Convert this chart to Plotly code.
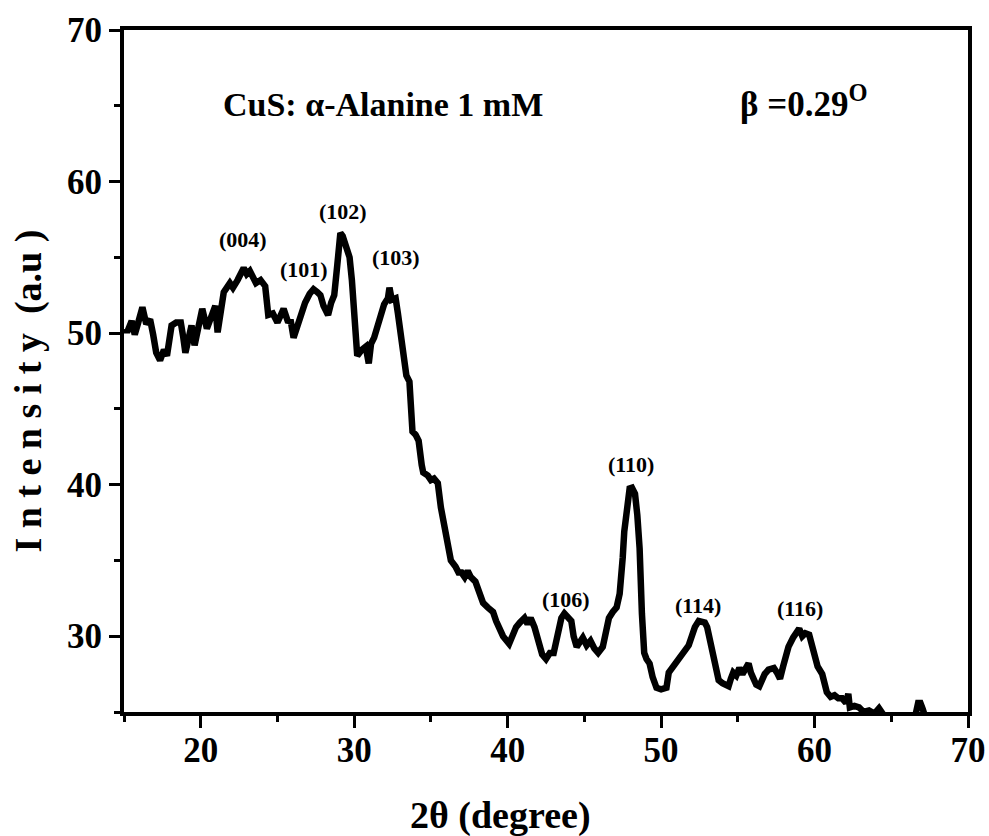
import plotly.graph_objects as go

two_theta = [15.1, 15.2, 15.5, 15.7, 15.9, 16.2, 16.45, 16.7, 16.9, 17.1, 17.35, 17.6, 17.8, 18.1, 18.4, 18.7, 18.85, 19.0, 19.2, 19.4,
             19.6, 19.85, 20.1, 20.4, 20.7, 20.95, 21.1, 21.3, 21.5, 21.9, 22.1, 22.4, 22.6, 22.8, 23.0, 23.2, 23.4, 23.6, 23.9, 24.2,
             24.4, 24.7, 25.0, 25.2, 25.4, 25.7, 25.85, 26.05, 26.4, 26.6, 26.8, 27.1, 27.35, 27.6, 27.8, 28.0, 28.3, 28.5, 28.7, 28.9,
             29.1, 29.25, 29.45, 29.7, 29.85, 30.0, 30.2, 30.5, 30.75, 30.95, 31.1, 31.3, 31.5, 31.7, 31.95, 32.2, 32.3, 32.45, 32.7, 32.85,
             33.0, 33.2, 33.4, 33.6, 33.8, 34.0, 34.2, 34.4, 34.5, 34.8, 35.0, 35.2, 35.45, 35.65, 35.85, 36.1, 36.3, 36.6, 36.8, 37.0,
             37.2, 37.4, 37.6, 37.9, 38.1, 38.4, 38.7, 39.05, 39.25, 39.45, 39.7, 40.1, 40.3, 40.55, 40.8, 41.1, 41.3, 41.5, 41.75, 42.0,
             42.25, 42.5, 42.75, 43.0, 43.3, 43.5, 43.7, 43.95, 44.15, 44.3, 44.5, 44.7, 44.9, 45.15, 45.4, 45.65, 45.9, 46.2, 46.4, 46.6,
             46.85, 47.1, 47.3, 47.4, 47.5, 47.6, 47.8, 47.95, 48.1, 48.3, 48.45, 48.6, 48.75, 48.9, 49.05, 49.25, 49.45, 49.7, 50.0, 50.35,
             50.5, 50.7, 50.95, 51.15, 51.4, 51.6, 51.8, 52.0, 52.2, 52.45, 52.65, 52.85, 53.0, 53.15, 53.3, 53.5, 53.75, 54.0, 54.4, 54.55,
             54.7, 54.9, 55.1, 55.3, 55.5, 55.7, 55.85, 56.0, 56.2, 56.4, 56.6, 56.75, 57.0, 57.35, 57.55, 57.75, 57.95, 58.15, 58.3, 58.6,
             58.85, 59.0, 59.2, 59.4, 59.65, 59.85, 60.0, 60.2, 60.5, 60.65, 60.8, 61.05, 61.3, 61.55, 61.8, 62.05, 62.2, 62.3, 62.6, 62.9,
             63.2, 63.55, 63.9, 64.2, 64.5, 64.9, 65.5, 66.0, 66.4, 66.6, 66.75, 66.9, 67.05, 67.2, 68.0, 69.0, 70.0]

intensity = [50.3, 50.05, 50.8, 49.9, 50.6, 51.7, 50.6, 50.9, 49.9, 48.7, 48.2, 48.9, 48.5, 50.5, 50.7, 50.7, 49.8, 48.7, 49.6, 50.5,
             49.2, 50.2, 51.6, 50.3, 51.0, 51.8, 50.05, 51.5, 52.7, 53.3, 53.0, 53.5, 53.9, 54.3, 53.9, 54.1, 53.7, 53.3, 53.5, 53.1,
             51.2, 51.3, 50.7, 51.2, 51.6, 50.7, 50.9, 49.7, 50.9, 51.4, 52.0, 52.6, 52.9, 52.7, 52.5, 51.8, 51.2, 52.0, 52.5, 54.5,
             56.6, 56.4, 55.6, 55.0, 53.5, 51.0, 48.5, 48.9, 49.1, 48.0, 49.3, 49.7, 50.5, 51.3, 51.9, 52.3, 53.0, 52.2, 52.3, 51.3,
             50.3, 48.5, 47.2, 46.8, 43.5, 43.3, 42.9, 41.3, 40.8, 40.6, 40.3, 40.4, 40.1, 38.5, 37.4, 35.6, 35.0, 34.6, 34.2, 34.2,
             33.9, 34.3, 33.9, 33.6, 32.9, 32.2, 31.9, 31.6, 31.0, 30.5, 30.0, 29.5, 30.1, 30.6, 30.9, 31.2, 30.8, 31.2, 30.6, 29.7,
             28.8, 28.5, 28.9, 28.9, 30.6, 31.2, 31.5, 31.2, 31.0, 30.0, 29.3, 29.6, 29.9, 29.4, 29.7, 29.2, 28.9, 29.3, 30.2, 31.2,
             31.6, 31.9, 32.8, 33.7, 35.2, 36.9, 38.8, 39.75, 39.8, 39.4, 38.0, 35.8, 31.5, 28.9, 28.5, 28.2, 27.3, 26.6, 26.5, 26.6,
             27.6, 27.9, 28.2, 28.5, 28.9, 29.2, 29.4, 30.0, 30.6, 31.0, 31.0, 30.9, 30.6, 29.8, 29.1, 28.0, 27.1, 26.9, 26.7, 27.2,
             27.6, 27.4, 27.9, 27.5, 27.9, 28.2, 27.6, 27.1, 26.8, 26.7, 27.2, 27.5, 27.8, 27.9, 27.6, 27.2, 28.0, 28.9, 29.3, 29.9,
             30.4, 30.5, 30.0, 30.2, 30.1, 29.2, 28.6, 28.0, 27.5, 26.8, 26.3, 26.0, 26.1, 25.9, 25.9, 25.6, 26.2, 25.3, 25.4, 25.3,
             25.0, 25.1, 24.9, 25.25, 24.8, 24.7, 24.6, 24.6, 24.7, 24.9, 25.6, 25.6, 25.2, 24.7, 24.5, 24.4, 24.4]

peak_labels = ["(004)", "(101)", "(102)", "(103)", "(106)", "(110)", "(114)", "(116)"]
peak_label_x = [22.78, 26.7, 29.3, 32.7, 43.8, 48.07, 52.4, 59.06]
peak_label_y = [56.15, 54.2, 58.0, 54.96, 32.4, 41.3, 32.0, 31.8]

x_ticks = [20, 30, 40, 50, 60, 70]
y_ticks = [30, 40, 50, 60, 70]

FONT = "Liberation Serif, Times New Roman, serif"

fig = go.Figure()
fig.add_trace(go.Scatter(x=two_theta, y=intensity, mode="lines",
                         line=dict(color="black", width=6.5), showlegend=False))

annotations = []
for t, xx, yy in zip(peak_labels, peak_label_x, peak_label_y):
    annotations.append(dict(x=xx, y=yy, text=t, showarrow=False, xanchor="center", yanchor="middle",
                            font=dict(family=FONT, size=22, color="black", weight="bold")))

annotations.append(dict(x=31.86, y=65.1, text="CuS: α-Alanine 1 mM", showarrow=False,
                        xanchor="center", yanchor="middle",
                        font=dict(family=FONT, size=34, color="black", weight="bold")))
annotations.append(dict(x=55.0, y=65.3, text="β =0.29<sup>O</sup>", showarrow=False,
                        xanchor="left", yanchor="middle",
                        font=dict(family=FONT, size=35, color="black", weight="bold")))

# axis titles (plot area is 844 x 682 px)
annotations.append(dict(xref="paper", yref="paper", x=0.4455, y=-0.152, text="2θ (degree)", showarrow=False,
                        xanchor="center", yanchor="middle",
                        font=dict(family=FONT, size=38, color="black", weight="bold")))
annotations.append(dict(xref="paper", yref="paper", x=-0.113, y=0.4707, text="I n t e n s i t y  (a.u )",
                        showarrow=False, textangle=-90, xanchor="center", yanchor="middle",
                        font=dict(family=FONT, size=38, color="black", weight="bold")))

fig.update_layout(
    width=989, height=836,
    margin=dict(l=124, r=21, t=30, b=124),
    plot_bgcolor="white", paper_bgcolor="white",
    annotations=annotations,
    font=dict(family=FONT, color="black"),
)

fig.update_xaxes(
    range=[15, 70], tickvals=x_ticks, ticks="outside", ticklen=12, tickwidth=3, tickcolor="black",
    showline=True, linewidth=4, linecolor="black", mirror=True, showgrid=False, zeroline=False,
    automargin=False, ticklabelstandoff=-8, ticklabeloverflow="allow",
    tickfont=dict(family=FONT, size=35, color="black", weight="bold"),
    minor=dict(dtick=5, tick0=0, ticks="outside", ticklen=6, tickwidth=3, tickcolor="black", showgrid=False),
)
fig.update_yaxes(
    range=[25, 70], tickvals=y_ticks, ticks="outside", ticklen=11, tickwidth=3, tickcolor="black",
    showline=True, linewidth=4, linecolor="black", mirror=True, showgrid=False, zeroline=False,
    automargin=False,
    tickfont=dict(family=FONT, size=35, color="black", weight="bold"),
    minor=dict(dtick=5, tick0=0, ticks="outside", ticklen=6, tickwidth=3, tickcolor="black", showgrid=False),
)

# remove the default page margin so the 989x836 figure fills the window exactly
fig.write_html("out.html", config={"displayModeBar": False},
               post_script="document.body.style.margin='0';document.body.style.overflow='hidden';")
